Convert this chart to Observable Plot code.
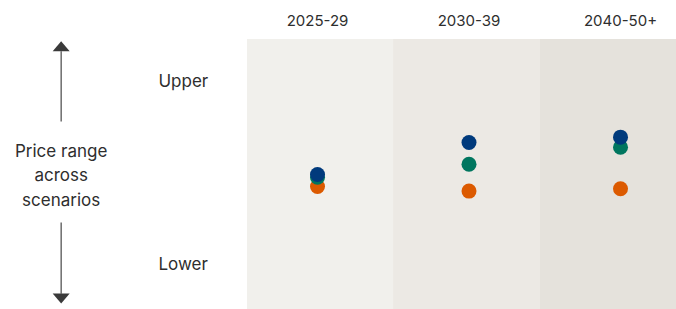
<!DOCTYPE html>
<html>
<head>
<meta charset="utf-8">
<script src="https://cdn.jsdelivr.net/npm/d3@7"></script>
<script src="https://cdn.jsdelivr.net/npm/@observablehq/plot@0.6"></script>
<style>
  html, body { margin: 0; padding: 0; background: #ffffff; }
  #chart svg { display: block; }
</style>
</head>
<body>
<div id="chart"></div>
<script>
// Periods (x positions are period index 0,1,2)
const periods = ["2025-29", "2030-39", "2040-50+"];
const periodIndex = [0, 1, 2];
// Shaded period bands (edges in period units)
const bandStart = [-0.462, 0.502, 1.472];
const bandEnd = [0.502, 1.472, 2.37];
const bandColors = ["#f1f0ec", "#ece9e4", "#e5e2dc"];
// Price position across scenarios (Lower = 0, Upper = 1)
const scenarioNames = ["Scenario C", "Scenario B", "Scenario A"];
const scenarioColors = ["#dc5a00", "#00765f", "#003a7c"];
const scenarioC = [0.426, 0.401, 0.414]; // orange
const scenarioB = [0.477, 0.548, 0.641]; // teal
const scenarioA = [0.492, 0.667, 0.696]; // blue
// Range labels
const rangeLabels = ["Lower", "Upper"];
const rangeValues = [0, 1];
const axisTitle = "Price range\nacross\nscenarios";

const bands = periods.map((p, i) => ({ period: p, x1: bandStart[i], x2: bandEnd[i], fill: bandColors[i] }));
const points = [];
[scenarioC, scenarioB, scenarioA].forEach((vals, s) => {
  vals.forEach((v, i) => points.push({ scenario: scenarioNames[s], x: periodIndex[i], y: v, color: scenarioColors[s] }));
});
const headers = periods.map((p, i) => ({ label: p, x: periodIndex[i] }));
const ranges = rangeLabels.map((l, i) => ({ label: l, y: rangeValues[i] }));

const yTop = 1.2295, yBottom = -0.2459;
const labelX = -1.692;
const arrows = [
  { x: labelX, y1: 0.7814, y2: 1.1656 },
  { x: labelX, y1: 0.2295, y2: -0.1601 }
];
const heads = [
  { x: labelX, y: 1.1929, dir: "up" },
  { x: labelX, y: -0.1858, dir: "down" }
];
const triUp = { draw(ctx) { ctx.moveTo(0, -5); ctx.lineTo(8.5, 5); ctx.lineTo(-8.5, 5); ctx.closePath(); } };
const triDown = { draw(ctx) { ctx.moveTo(0, 5); ctx.lineTo(8.5, -5); ctx.lineTo(-8.5, -5); ctx.closePath(); } };

const chart = Plot.plot({
  width: 676,
  height: 309,
  marginTop: 0, marginBottom: 0, marginLeft: 0, marginRight: 0,
  style: { fontFamily: "Inter, 'Noto Sans', sans-serif", fontSize: "15px", color: "#333", background: "#ffffff" },
  x: { type: "linear", domain: [-2.0924, 2.3696], axis: null },
  y: { type: "linear", domain: [-0.2459, 1.4426], axis: null },
  marks: [
    Plot.rectY(bands, { x1: "x1", x2: "x2", y1: yBottom, y2: yTop, fill: "fill", inset: 0 }),
    Plot.text(headers, { x: "x", y: 1.3279, text: "label", fill: "#2e2e2e", fontSize: 15, lineAnchor: "middle" }),
    Plot.text(ranges, { x: -1.05, y: "y", text: "label", fill: "#2e2e2e", fontSize: 17, textAnchor: "start", lineAnchor: "middle" }),
    Plot.text([axisTitle], { x: labelX, y: 0.497, text: d => d, fill: "#2e2e2e", fontSize: 17, lineHeight: 1.44, lineAnchor: "middle" }),
    Plot.link(arrows, { x1: "x", x2: "x", y1: "y1", y2: "y2", stroke: "#555", strokeWidth: 1.3 }),
    Plot.dot(heads.filter(d => d.dir === "up"), { x: "x", y: "y", symbol: triUp, fill: "#3a3a3a", stroke: "none" }),
    Plot.dot(heads.filter(d => d.dir === "down"), { x: "x", y: "y", symbol: triDown, fill: "#3a3a3a", stroke: "none" }),
    Plot.dot(points, { x: "x", y: "y", r: 7.5, fill: "color", stroke: "none" })
  ]
});
document.getElementById("chart").appendChild(chart);
</script>
</body>
</html>
